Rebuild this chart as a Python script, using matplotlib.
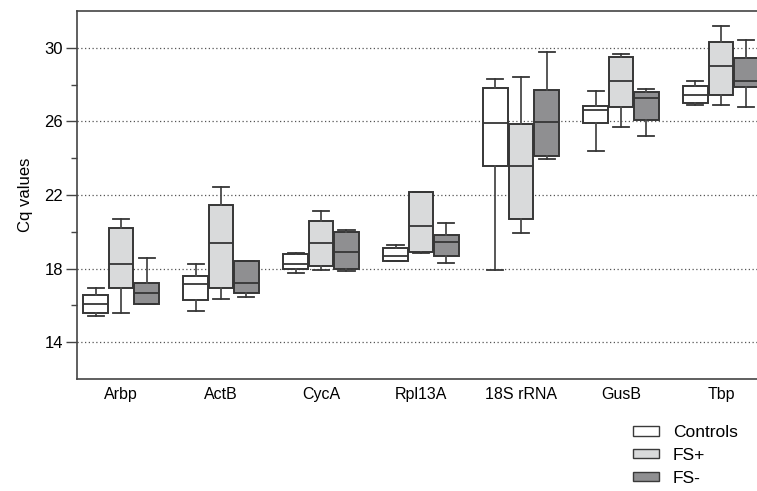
import matplotlib
matplotlib.use("Agg")
import matplotlib.pyplot as plt
from matplotlib.patches import Patch

genes = ["Arbp", "ActB", "CycA", "Rpl13A", "18S rRNA", "GusB", "Tbp"]
groups = ["Controls", "FS+", "FS-"]

# whisker low, Q1, median, Q3, whisker high for each gene
ctrl_lo = [15.41, 15.70, 17.74, 18.43, 17.91, 24.41, 26.91]
ctrl_q1 = [15.59, 16.32, 18.00, 18.43, 23.55, 25.90, 27.00]
ctrl_med = [16.06, 17.16, 18.23, 18.70, 25.92, 26.62, 27.41]
ctrl_q3 = [16.59, 17.62, 18.78, 19.14, 27.83, 26.82, 27.92]
ctrl_hi = [16.95, 18.27, 18.85, 19.28, 28.32, 27.67, 28.21]

fsp_lo = [15.61, 16.33, 17.92, 18.87, 19.95, 25.68, 26.91]
fsp_q1 = [16.93, 16.97, 18.14, 18.92, 20.71, 26.78, 27.41]
fsp_med = [18.23, 19.39, 19.41, 20.29, 23.60, 28.19, 29.02]
fsp_q3 = [20.18, 21.47, 20.58, 22.19, 25.88, 29.49, 30.31]
fsp_hi = [20.69, 22.41, 21.12, 22.19, 28.41, 29.66, 31.21]

fsm_lo = [16.10, 16.46, 17.87, 18.32, 23.98, 25.19, 26.80]
fsm_q1 = [16.10, 16.70, 18.00, 18.68, 24.14, 26.06, 27.87]
fsm_med = [16.66, 17.24, 18.92, 19.44, 25.95, 27.25, 28.17]
fsm_q3 = [17.24, 18.41, 20.00, 19.84, 27.71, 27.60, 29.44]
fsm_hi = [18.56, 18.41, 20.11, 20.49, 29.75, 27.78, 30.40]

series = [
    (ctrl_lo, ctrl_q1, ctrl_med, ctrl_q3, ctrl_hi),
    (fsp_lo, fsp_q1, fsp_med, fsp_q3, fsp_hi),
    (fsm_lo, fsm_q1, fsm_med, fsm_q3, fsm_hi),
]
colors = ["#ffffff", "#d9dadb", "#8f8f91"]
offsets = [-0.255, 0.0, 0.255]

plt.rcParams['font.family'] = ['Liberation Sans', 'DejaVu Sans']

fig = plt.figure(figsize=(7.57, 4.91), dpi=100)
ax = fig.add_axes([77 / 757, 112 / 491, 1 - 77 / 757, 368 / 491])

for (lo, q1, med, q3, hi), col, off in zip(series, colors, offsets):
    stats = []
    for i in range(len(genes)):
        stats.append({'whislo': lo[i], 'q1': q1[i], 'med': med[i],
                      'q3': q3[i], 'whishi': hi[i], 'fliers': []})
    pos = [i + off for i in range(len(genes))]
    ax.bxp(stats, positions=pos, widths=0.245, patch_artist=True,
           showfliers=False, capwidths=0.16,
           boxprops=dict(facecolor=col, edgecolor="#363636", linewidth=1.4),
           medianprops=dict(color="#363636", linewidth=1.3),
           whiskerprops=dict(color="#4a4a4a", linewidth=1.3),
           capprops=dict(color="#363636", linewidth=1.3),
           manage_ticks=False, zorder=3)

ax.set_xlim(-0.44, 6.36)
ax.set_ylim(12, 32)
ax.set_yticks([14, 18, 22, 26, 30])
ax.set_yticks([16, 20, 24, 28], minor=True)
ax.set_xticks(range(len(genes)))
ax.set_xticklabels(genes)
ax.tick_params(axis='x', length=0, labelsize=11.5, pad=6)
ax.tick_params(axis='y', which='major', length=8, width=1, color="#444444",
               labelsize=12, pad=2)
ax.tick_params(axis='y', which='minor', length=4.5, width=1, color="#444444")
ax.grid(axis='y', which='major', linestyle=(0, (1, 2)), color="#555555",
        linewidth=0.9)
ax.set_axisbelow(True)
ax.spines['right'].set_visible(False)
for s in ['left', 'top', 'bottom']:
    ax.spines[s].set_color("#444444")
    ax.spines[s].set_linewidth(1.2)
ax.set_ylabel("Cq values", fontsize=12, labelpad=8)

handles = [Patch(facecolor=c, edgecolor="#3a3a3a", linewidth=1.0) for c in colors]
fig.legend(handles, groups, loc='upper left', bbox_to_anchor=(0.836, 0.1345),
           frameon=False, fontsize=12.5, handlelength=1.5, handleheight=0.47,
           labelspacing=0.45, handletextpad=0.8, borderaxespad=0, borderpad=0)

fig.savefig("out.png", dpi=100)
